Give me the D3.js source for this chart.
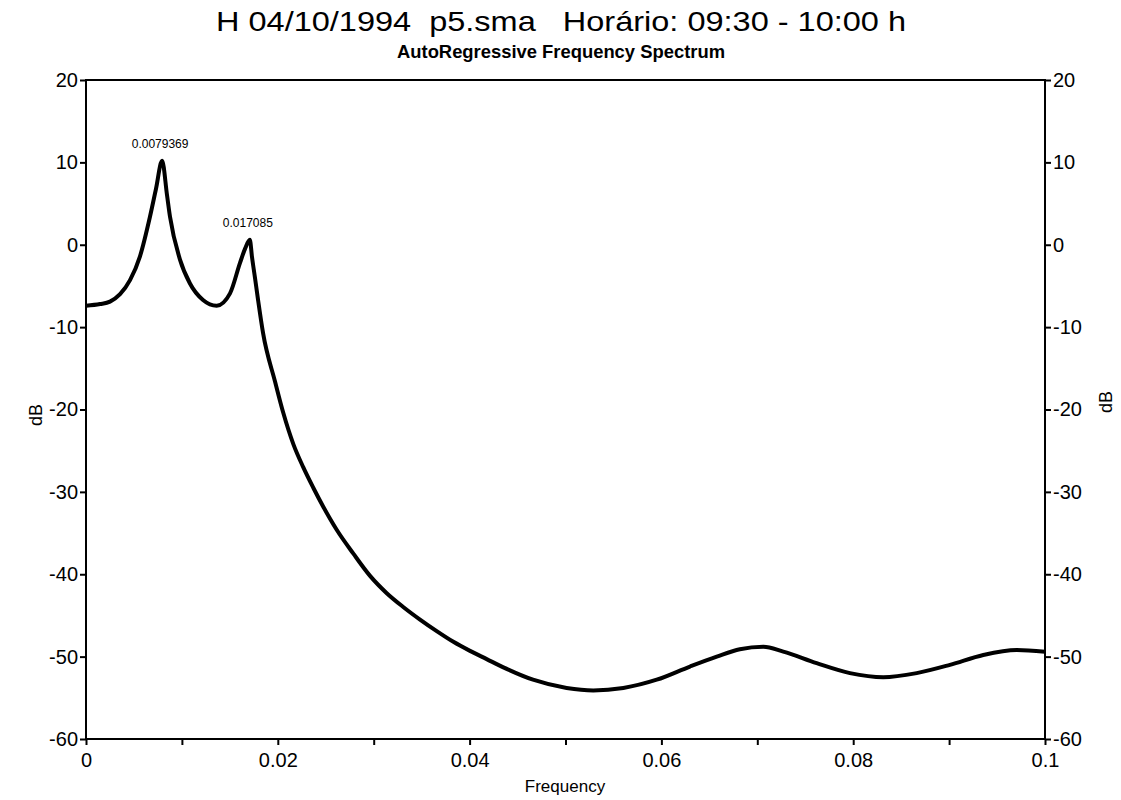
<!DOCTYPE html>
<html>
<head>
<meta charset="utf-8">
<script src="https://cdn.jsdelivr.net/npm/d3@7"></script>
<style>
  body { margin: 0; background: #fff; }
  text { font-family: "Liberation Sans", Arial, sans-serif; fill: #000; }
</style>
</head>
<body>
<div id="spectrum"></div>
<script>
// AR spectrum, frequency vs power (dB)
const freq = [0, 0.00146, 0.0025, 0.00355, 0.00459, 0.00563, 0.00667, 0.0073, 0.0079369,
  0.00845, 0.00876, 0.0098, 0.01084, 0.0122, 0.01363, 0.01502, 0.01606, 0.01658, 0.017085,
  0.01731, 0.01762, 0.01793, 0.01846, 0.01971, 0.02057, 0.02162, 0.02265, 0.02370, 0.02474,
  0.02614, 0.02788, 0.02962, 0.03136, 0.03311, 0.03483, 0.03657, 0.03831, 0.04004, 0.04178,
  0.04352, 0.04661, 0.05012, 0.0529, 0.05603, 0.05951, 0.06298, 0.06577, 0.06818, 0.07063,
  0.07271, 0.07619, 0.07966, 0.08314, 0.08662, 0.09009, 0.09357, 0.09705, 0.1];
const dB = [-7.4, -7.2, -6.9, -6.0, -4.3, -1.4, 3.4, 6.8, 10.2,
  6.0, 3.4, -1.8, -4.7, -6.7, -7.4, -5.9, -2.2, -0.5, 0.6,
  -1.5, -4.0, -6.6, -10.7, -16.6, -20.4, -24.2, -27.0, -29.5, -31.8,
  -34.6, -37.5, -40.2, -42.3, -44.0, -45.5, -46.9, -48.2, -49.3, -50.3,
  -51.3, -52.8, -53.8, -54.1, -53.8, -52.8, -51.2, -50.0, -49.1, -48.8,
  -49.4, -50.8, -52.0, -52.5, -52.0, -51.0, -49.8, -49.2, -49.4];

const peakFreqs = [0.0079369, 0.017085];
const peakLabels = ["0.0079369", "0.017085"];

const xTicks = [0, 0.01, 0.02, 0.03, 0.04, 0.05, 0.06, 0.07, 0.08, 0.09, 0.1];
const xLabels = [0, 0.02, 0.04, 0.06, 0.08, 0.1];
const yTicks = [20, 10, 0, -10, -20, -30, -40, -50, -60];

const W = 1121, H = 800;
const margin = { top: 80, right: 76, bottom: 61, left: 86 };

const svg = d3.select("#spectrum").append("svg")
  .attr("width", W)
  .attr("height", H);

const x = d3.scaleLinear().domain([0, 0.1]).range([margin.left, W - margin.right]);
const y = d3.scaleLinear().domain([-60, 20]).range([H - margin.bottom, margin.top]);

// titles
svg.append("text")
  .attr("x", 561).attr("y", 31)
  .attr("text-anchor", "middle")
  .attr("textLength", 690)
  .attr("lengthAdjust", "spacingAndGlyphs")
  .style("font-size", "28px")
  .style("white-space", "pre")
  .text("H 04/10/1994  p5.sma   Horário: 09:30 - 10:00 h");

svg.append("text")
  .attr("x", 561).attr("y", 58)
  .attr("text-anchor", "middle")
  .attr("textLength", 328)
  .attr("lengthAdjust", "spacingAndGlyphs")
  .style("font-size", "19px")
  .style("font-weight", "bold")
  .text("AutoRegressive Frequency Spectrum");

// frame
svg.append("rect")
  .attr("x", x(0)).attr("y", y(20))
  .attr("width", x(0.1) - x(0))
  .attr("height", y(-60) - y(20))
  .attr("fill", "none")
  .attr("stroke", "#000")
  .attr("stroke-width", 2);

const fmt = d => String(d);

// bottom axis
const xAxis = svg.append("g")
  .attr("transform", `translate(0,${y(-60)})`)
  .call(d3.axisBottom(x).tickValues(xTicks).tickSize(6)
    .tickFormat(d => xLabels.some(v => Math.abs(v - d) < 1e-9) ? fmt(+d.toFixed(2)) : ""));
xAxis.select(".domain").remove();
xAxis.selectAll("line").attr("stroke-width", 2);
xAxis.selectAll("text").style("font-size", "20px").attr("dy", "0.95em");

// left / right axes
const yLeft = svg.append("g")
  .attr("transform", `translate(${x(0)},0)`)
  .call(d3.axisLeft(y).tickValues(yTicks).tickSize(6).tickPadding(2).tickFormat(fmt));
const yRight = svg.append("g")
  .attr("transform", `translate(${x(0.1)},0)`)
  .call(d3.axisRight(y).tickValues(yTicks).tickSize(6).tickPadding(2).tickFormat(fmt));
[yLeft, yRight].forEach(g => {
  g.select(".domain").remove();
  g.selectAll("line").attr("stroke-width", 2);
  g.selectAll("text").style("font-size", "20px");
});

// axis titles
svg.append("text")
  .attr("x", 565).attr("y", 792)
  .attr("text-anchor", "middle")
  .style("font-size", "17px")
  .text("Frequency");

svg.append("text")
  .attr("transform", "translate(42,415) rotate(-90)")
  .attr("text-anchor", "middle")
  .style("font-size", "18px")
  .text("dB");

svg.append("text")
  .attr("transform", "translate(1112,402) rotate(-90)")
  .attr("text-anchor", "middle")
  .style("font-size", "18px")
  .text("dB");

// spectrum curve
const pts = freq.map((f, i) => [f, dB[i]]);
const line = d3.line()
  .x(d => x(d[0]))
  .y(d => y(d[1]))
  .curve(d3.curveMonotoneX);

svg.append("path")
  .datum(pts)
  .attr("fill", "none")
  .attr("stroke", "#000")
  .attr("stroke-width", 4)
  .attr("stroke-linejoin", "round")
  .attr("d", line);

// peak annotations
peakFreqs.forEach((f, i) => {
  const v = dB[freq.indexOf(f)];
  svg.append("text")
    .attr("x", x(f) - 2)
    .attr("y", y(v) - 13)
    .attr("text-anchor", "middle")
    .style("font-size", "12px")
    .text(peakLabels[i]);
});
</script>
</body>
</html>
